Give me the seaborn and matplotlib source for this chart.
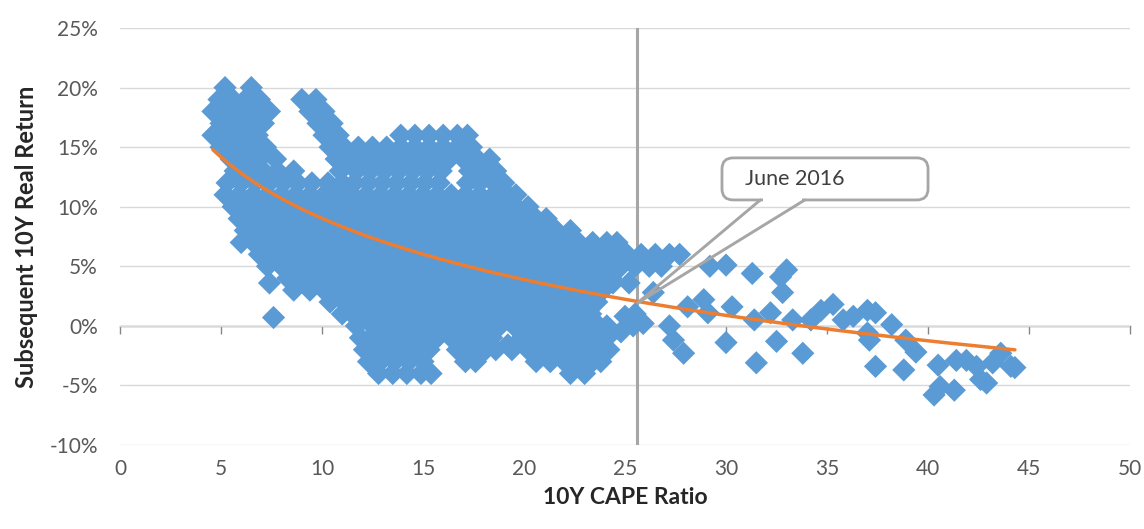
import numpy as np
import pandas as pd
import matplotlib
matplotlib.use("Agg")
import matplotlib.pyplot as plt
from matplotlib.patches import FancyBboxPatch
from matplotlib.ticker import FuncFormatter
import seaborn as sns

# Subsequent 10-year real return (%) against the starting 10Y CAPE ratio.
# Dense part of the cloud, read row by row: one return level, the CAPE readings on it.
cloud_ret = [20, 19, 18, 17, 16, 15, 14, 13, 12, 11, 10, 9, 8, 7, 6, 5, 4, 3, 2, 1, 0, -1, -2, -3, -4]
cloud_cape = [
    [5.2, 6.5],
    [4.9, 5.6, 6.2, 6.9, 9.0, 9.7],
    [4.6, 5.3, 6.0, 6.7, 7.4, 9.4, 10.1],
    [5.0, 5.7, 6.4, 7.1, 9.8, 10.5],
    [4.6, 5.3, 6.0, 6.8, 10.1, 10.8, 13.9, 14.6, 15.3, 16.0, 16.7, 17.2],
    [5.0, 5.7, 6.4, 7.2, 10.4, 11.1, 11.8, 12.5, 13.2, 13.9, 14.6, 15.3, 16.0, 16.7, 17.4],
    [5.5, 6.2, 6.9, 7.7, 10.7, 11.4, 12.1, 12.8, 13.5, 14.2, 14.9, 15.6, 16.3, 17.0, 17.7, 18.3],
    [5.7, 6.4, 7.1, 7.8, 8.6, 10.9, 11.7, 12.4, 13.1, 13.8, 14.5, 15.2, 15.9, 17.3, 18.0, 18.6],
    [5.3, 6.0, 6.7, 7.4, 8.1, 8.8, 9.5, 10.3, 11.0, 11.6, 12.3, 13.0, 13.7, 14.4, 15.1, 15.8,
     17.2, 17.8, 18.5, 19.0],
    [5.2, 5.9, 6.6, 7.3, 8.0, 8.7, 9.4, 10.1, 10.8, 11.5, 12.2, 12.9, 13.6, 14.3, 15.0, 15.7,
     16.4, 17.1, 17.8, 18.5, 19.2, 19.6],
    [5.6, 6.3, 7.0, 7.7, 8.4, 9.1, 9.8, 10.5, 11.2, 11.9, 12.6, 13.3, 14.0, 14.7, 15.4, 16.1,
     16.8, 17.5, 18.2, 18.9, 19.6, 20.2],
    [5.9, 6.6, 7.3, 8.0, 8.7, 9.4, 10.1, 10.8, 11.5, 12.2, 12.9, 13.6, 14.3, 15.0, 15.7, 16.4,
     17.1, 17.8, 18.5, 19.2, 19.9, 20.6, 21.1],
    [6.2, 6.9, 7.6, 8.3, 9.0, 9.7, 10.4, 11.1, 11.8, 12.5, 13.2, 13.9, 14.6, 15.3, 16.0, 16.7,
     17.4, 18.1, 18.8, 19.5, 20.2, 20.9, 21.6, 22.3],
    [6.0, 6.6, 7.3, 8.0, 8.7, 9.4, 10.1, 10.8, 11.5, 12.2, 12.9, 13.6, 14.3, 15.0, 15.7, 16.4,
     17.1, 17.8, 18.5, 19.2, 19.9, 20.6, 21.3, 22.0, 22.7, 23.4, 24.1, 24.6],
    [6.9, 7.6, 8.3, 9.0, 9.7, 10.4, 11.1, 11.8, 12.5, 13.2, 13.9, 14.6, 15.3, 16.0, 16.7, 17.4,
     18.1, 18.8, 19.5, 20.2, 20.9, 21.6, 22.3, 23.0, 23.7, 24.4, 25.1, 25.8, 26.5, 27.2, 27.7],
    [7.3, 8.0, 8.7, 9.4, 10.1, 10.8, 11.5, 12.2, 12.9, 13.6, 14.3, 15.0, 15.7, 16.4, 17.1, 17.8,
     18.5, 19.2, 19.9, 20.6, 21.3, 22.0, 22.7, 23.4, 24.1, 24.8, 25.5, 26.2, 26.8],
    [8.3, 9.0, 9.7, 10.4, 11.1, 11.8, 12.5, 13.2, 13.9, 14.6, 15.3, 16.0, 16.7, 17.4, 18.1, 18.8,
     19.5, 20.2, 20.9, 21.6, 22.3, 23.0, 23.7, 24.3],
    [9.4, 10.1, 10.8, 11.5, 12.2, 12.9, 13.6, 14.3, 15.0, 15.7, 16.4, 17.1, 17.8, 18.5, 19.2,
     19.9, 20.6, 21.3, 22.0, 22.7, 23.4, 23.9],
    [10.4, 11.1, 11.8, 12.5, 13.2, 13.9, 14.6, 15.3, 16.0, 16.7, 17.4, 18.1, 18.8, 19.5, 20.2,
     20.9, 21.6, 22.3, 23.0, 23.6],
    [11.0, 11.5, 12.2, 12.9, 13.6, 14.3, 15.0, 15.7, 16.4, 17.1, 17.8, 18.5, 19.2, 19.9, 20.6,
     21.3, 22.0, 22.7, 23.3],
    [11.7, 12.5, 13.2, 13.9, 14.6, 15.3, 16.0, 16.7, 17.4, 18.1, 18.8, 19.5, 20.2, 20.9, 21.6,
     22.3, 23.0, 23.7, 24.1],
    [11.9, 12.4, 12.9, 13.6, 14.3, 15.0, 15.7, 16.4, 17.1, 17.8, 18.4, 19.9, 20.6, 21.3, 22.0,
     22.7, 23.4, 24.1],
    [12.1, 12.5, 13.2, 13.9, 14.6, 15.3, 16.7, 17.4, 18.1, 18.6, 19.4, 20.2, 20.9, 21.6, 22.3,
     23.0, 23.7, 24.2],
    [12.3, 12.9, 13.6, 14.3, 15.0, 17.1, 17.6, 20.6, 21.3, 22.0, 22.7, 23.4, 23.8],
    [12.8, 13.5, 14.2, 14.9, 15.4, 22.3, 23.0],
]

# Sparser readings outside the dense cloud
sparse_cape = [7.4, 8.6, 7.6, 19.2,
               24.4, 25.2, 25.4, 25.0, 25.5, 25.9, 24.8, 26.4, 27.2, 27.4, 27.9, 28.1, 28.9, 29.1,
               29.2, 30.0, 30.3, 30.0, 31.3, 31.4, 31.5, 32.7, 33.0, 32.8, 32.2, 32.5, 33.3, 33.8,
               34.2, 34.7, 35.3, 35.8, 36.3, 37.0, 37.4, 37.0, 37.1, 37.4, 38.2, 38.9, 39.4, 38.8,
               40.5, 40.3, 40.6, 41.3, 41.4, 41.9, 42.4, 42.6, 42.9, 43.2, 43.6, 44.1, 44.3]
sparse_ret = [3.6, 3.0, 0.7, -1.6,
              3.6, 3.6, 0.0, 0.8, 1.0, 0.2, -0.5, 2.8, 0.0, -1.2, -2.3, 1.6, 2.2, 1.1,
              5.0, 5.1, 1.6, -1.4, 4.4, 0.5, -3.1, 4.1, 4.7, 2.8, 1.1, -1.3, 0.5, -2.3,
              0.5, 1.3, 1.8, 0.5, 0.8, 1.3, 1.1, -0.6, -1.2, -3.4, 0.1, -1.2, -2.2, -3.7,
              -3.3, -5.8, -5.1, -5.4, -2.9, -2.9, -3.4, -4.5, -4.8, -3.1, -2.3, -3.4, -3.5]

# Reference marker: CAPE in June 2016
june_2016_cape = 25.6
june_2016_ret = 1.9

x_ticks = [0, 5, 10, 15, 20, 25, 30, 35, 40, 45, 50]
y_ticks = [-10, -5, 0, 5, 10, 15, 20, 25]

cape = [c for row in cloud_cape for c in row] + sparse_cape
ret = [r for r, row in zip(cloud_ret, cloud_cape) for _ in row] + sparse_ret
df = pd.DataFrame({"cape": cape, "ret": ret})

# Logarithmic trend fitted to the scatter
slope, intercept = np.polyfit(np.log(df["cape"]), df["ret"], 1)
trend_x = np.linspace(df["cape"].min(), df["cape"].max(), 200)
trend_y = intercept + slope * np.log(trend_x)

sns.set_theme(style="white")
plt.rcParams["font.family"] = ["Lato", "DejaVu Sans"]

BLUE = "#5B9BD5"
ORANGE = "#ED7D31"
GREY = "#A6A6A6"
TEXT = "#595959"

fig = plt.figure(figsize=(11.44, 5.29), dpi=100)
ax = fig.add_axes([0.1049, 0.1588, 0.8829, 0.7882])

ax.axvline(june_2016_cape, color=GREY, lw=2.2, zorder=2)

sns.scatterplot(data=df, x="cape", y="ret", marker="D", s=140, color=BLUE,
                linewidth=0, edgecolor="none", ax=ax, zorder=3, legend=False)
sns.lineplot(x=trend_x, y=trend_y, color=ORANGE, lw=2.5, ax=ax, zorder=4)

ax.set_xlim(0, 50)
ax.set_ylim(-10, 25)
ax.set_xticks(x_ticks)
ax.set_yticks(y_ticks)
ax.yaxis.set_major_formatter(FuncFormatter(lambda v, _: f"{v:.0f}%"))
ax.set_axisbelow(True)
ax.yaxis.grid(True, color="#D9D9D9", lw=1.0, zorder=0)
ax.xaxis.grid(False)
for side in ["left", "right", "top", "bottom"]:
    ax.spines[side].set_visible(False)
ax.tick_params(axis="x", length=0, pad=10, labelsize=15, labelcolor=TEXT)
ax.tick_params(axis="y", length=0, pad=16, labelsize=15, labelcolor=TEXT)

# Horizontal axis line crossing at 0% with its own tick marks
sec = ax.secondary_xaxis(0, transform=ax.transData)
sec.set_xticks(x_ticks)
sec.tick_params(axis="x", direction="out", length=6, width=1.0, color="#868686",
                labelbottom=False, labeltop=False)
for side, sp in sec.spines.items():
    sp.set_visible(side == "bottom")
sec.spines["bottom"].set_color("#868686")
sec.spines["bottom"].set_linewidth(1.0)

ax.set_xlabel("10Y CAPE Ratio", fontsize=16.5, fontweight="bold", color="#262626", labelpad=6)
ax.set_ylabel("Subsequent 10Y Real Return", fontsize=17, fontweight="bold", color="#262626",
              labelpad=8)

# Callout box with a wedge pointing at the June 2016 reading
box_x0, box_y0, box_w, box_h = 29.8, 10.57, 10.2, 3.53
box = FancyBboxPatch((box_x0, box_y0), box_w, box_h,
                     boxstyle="round,pad=0,rounding_size=0.55", mutation_aspect=1.695,
                     facecolor="white", edgecolor=GREY, lw=2.0, zorder=7)
ax.add_patch(box)
base_left, base_right = 31.7, 33.9
ax.plot([base_left + 0.12, base_right - 0.12], [box_y0, box_y0], color="white", lw=2.9,
        solid_capstyle="butt", zorder=8)
ax.plot([base_left, june_2016_cape, base_right], [box_y0, june_2016_ret, box_y0],
        color=GREY, lw=2.1, zorder=9, solid_joinstyle="miter")
ax.text(30.95, box_y0 + box_h / 2, "June 2016", ha="left", va="center", fontsize=15.5,
        color="#404040", zorder=10)

fig.savefig("out.png", dpi=100)
